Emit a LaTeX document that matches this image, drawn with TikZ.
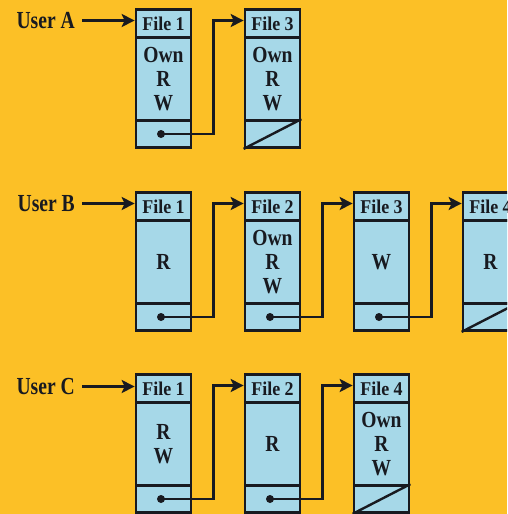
\documentclass[tikz,border=0pt]{standalone}
\usepackage{fontspec}
\setmainfont{Liberation Serif}
\newfontfamily\userfnt[FakeStretch=0.8]{Liberation Serif}
\newfontfamily\filefnt[FakeStretch=0.92]{Liberation Serif}
\newfontfamily\bodyfnt[FakeStretch=0.85]{Liberation Serif}
\usetikzlibrary{arrows.meta,calc}
\definecolor{bgc}{RGB}{252,192,38}
\definecolor{boxc}{RGB}{166,216,232}
\definecolor{ink}{RGB}{24,26,32}
\newcommand{\mkfile}[5]{%
  \node[hdr] (#1h) at ({#2+27.5},{#3+14}) {#4};
  \node[bdy] (#1b) at ({#2+27.5},{#3+69.5}) {#5};
  \node[ftr] (#1f) at ({#2+27.5},{#3+124.5}) {};
}
\newcommand{\mkdot}[1]{\node[dotn] (#1d) at ($(#1f.center)+(-2.5,0)$) {};}
\begin{document}
\begin{tikzpicture}[x=1pt,y=-1pt,
  cell/.style={draw=ink, line width=2.7pt, fill=boxc, minimum width=55pt, inner sep=0pt, text=ink},
  hdr/.style={cell, minimum height=28pt, font=\filefnt\bfseries\fontsize{19.5}{20}\selectfont},
  bdy/.style={cell, minimum height=83pt, align=center, font=\bodyfnt\bfseries\fontsize{23}{24}\selectfont},
  ftr/.style={cell, minimum height=27pt},
  dotn/.style={circle, fill=ink, inner sep=0pt, minimum size=8pt},
  user/.style={anchor=east, inner xsep=7pt, inner ysep=0pt, text=ink, font=\userfnt\bfseries\fontsize{24.5}{24}\selectfont},
  conn/.style={draw=ink, line width=2.7pt, -{Stealth[length=13pt,width=13pt,inset=3pt]}},
  nil/.style={draw=ink, line width=2.4pt}]
\fill[bgc] (0,0) rectangle (507,514);
\useasboundingbox (0,0) rectangle (507,514);
\clip (0,0) rectangle (507,514);
% Row A
\mkfile{a1}{136}{9.5}{File 1}{Own\\R\\W}
\mkfile{a3}{245}{9.5}{File 3}{Own\\R\\W}
\mkdot{a1}
\node[user] (uA) at (82,20.5) {User A};
\draw[conn] (uA.east) -- (uA.east -| a1h.west);
\coordinate (a3in) at ($(a3h.west)+(0,-3)$);
\draw[conn] (a1d.center) -| ($(a1f.east)+(21,0)$) |- (a3in);
\draw[nil] (a3f.south west) -- (a3f.north east);
% Row B
\mkfile{b1}{136}{192.5}{File 1}{R}
\mkfile{b2}{245}{192.5}{File 2}{Own\\R\\W}
\mkfile{b3}{354}{192.5}{File 3}{W}
\mkfile{b4}{463}{192.5}{File 4}{R}
\mkdot{b1}\mkdot{b2}\mkdot{b3}
\node[user] (uB) at (82,203.5) {User B};
\draw[conn] (uB.east) -- (uB.east -| b1h.west);
\coordinate (b2in) at ($(b2h.west)+(0,-3)$);
\coordinate (b3in) at ($(b3h.west)+(0,-3)$);
\coordinate (b4in) at ($(b4h.west)+(0,-3)$);
\draw[conn] (b1d.center) -| ($(b1f.east)+(21,0)$) |- (b2in);
\draw[conn] (b2d.center) -| ($(b2f.east)+(21,0)$) |- (b3in);
\draw[conn] (b3d.center) -| ($(b3f.east)+(21,0)$) |- (b4in);
\draw[nil] (b4f.south west) -- (b4f.north east);
% Row C
\mkfile{c1}{136}{374.5}{File 1}{R\\W}
\mkfile{c2}{245}{374.5}{File 2}{R}
\mkfile{c4}{354}{374.5}{File 4}{Own\\R\\W}
\mkdot{c1}\mkdot{c2}
\node[user] (uC) at (82,386.5) {User C};
\draw[conn] (uC.east) -- (uC.east -| c1h.west);
\coordinate (c2in) at ($(c2h.west)+(0,-3)$);
\coordinate (c4in) at ($(c4h.west)+(0,-3)$);
\draw[conn] (c1d.center) -| ($(c1f.east)+(21,0)$) |- (c2in);
\draw[conn] (c2d.center) -| ($(c2f.east)+(21,0)$) |- (c4in);
\draw[nil] (c4f.south west) -- (c4f.north east);
\end{tikzpicture}
\end{document}
